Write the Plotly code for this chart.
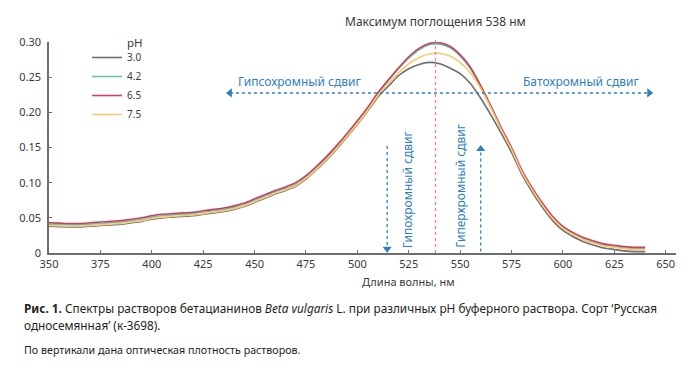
import plotly.graph_objects as go

wavelength = [350, 355, 360, 365, 370, 375, 380, 385, 390, 395, 400, 405, 410, 415, 420, 425, 430,
              435, 440, 445, 450, 455, 460, 465, 470, 475, 480, 485, 490, 495, 500, 505, 510, 515,
              520, 525, 530, 535, 540, 545, 550, 555, 560, 565, 570, 575, 580, 585, 590, 595, 600,
              605, 610, 615, 620, 625, 630, 635, 640]

ph_3_0 = [.038, .0375, .037, .037, .038, .039, .040, .041, .043, .045, .048, .050, .051, .052, .053,
          .055, .057, .059, .062, .066, .072, .078, .084, .089, .095, .105, .118, .132, .148, .165,
          .183, .202, .222, .237, .252, .262, .268, .271, .269, .263, .255, .241, .220, .196, .170,
          .143, .112, .087, .065, .046, .032, .023, .016, .011, .007, .005, .003, .002, .002]
ph_4_2 = [.041, .0405, .040, .040, .041, .042, .043, .044, .046, .048, .051, .053, .054, .055, .056,
          .058, .060, .062, .065, .069, .075, .081, .087, .092, .098, .108, .121, .135, .151, .168,
          .186, .205, .226, .245, .262, .277, .289, .296, .297, .292, .280, .262, .236, .207, .176,
          .148, .116, .091, .069, .050, .036, .027, .020, .015, .011, .009, .007, .006, .006]
ph_6_5 = [.043, .0425, .042, .042, .043, .044, .045, .046, .048, .050, .053, .055, .056, .057, .058,
          .060, .062, .064, .067, .071, .077, .083, .089, .094, .100, .110, .123, .137, .153, .170,
          .188, .207, .228, .246, .263, .279, .291, .298, .299, .294, .282, .264, .238, .209, .178,
          .150, .118, .093, .071, .052, .038, .029, .022, .017, .013, .011, .009, .008, .008]
ph_7_5 = [.039, .0385, .038, .038, .039, .040, .041, .042, .044, .046, .049, .051, .052, .053, .054,
          .056, .058, .060, .063, .067, .073, .079, .085, .090, .096, .106, .119, .133, .149, .166,
          .184, .203, .224, .241, .256, .269, .278, .283, .284, .280, .271, .256, .234, .206, .175,
          .147, .115, .090, .068, .049, .035, .026, .019, .014, .010, .008, .006, .005, .005]

series_names = ["3.0", "4.2", "6.5", "7.5"]
series_values = [ph_3_0, ph_4_2, ph_6_5, ph_7_5]
series_colors = ["#6d6e70", "#6cc3ae", "#c8415f", "#fcc970"]

x_ticks = [350, 375, 400, 425, 450, 475, 500, 525, 550, 575, 600, 625, 650]
y_ticks = [0, 0.05, 0.10, 0.15, 0.20, 0.25, 0.30]
y_tick_labels = ["0", "0.05", "0.10", "0.15", "0.20", "0.25", "0.30"]

peak_wavelength = 538
shift_level = 0.2275
hypso_arrow_x = [438, 642]
hypo_arrow = dict(x=514.5, y=[0.152, 0.006])
hyper_arrow = dict(x=560, y=[0.002, 0.148])

BLUE = "#2f7fc1"
AXIS = "#6d6e70"
TXT = "#3a3a3a"
FONT = "Noto Sans"

L, R, T, B = 49, 24, 42, 113
W, H = 700, 366
pw, ph = W - L - R, H - T - B


def px2paper(px, py):
    return (px - L) / pw, (H - B - py) / ph


fig = go.Figure()

for name, vals, col in zip(series_names, series_values, series_colors):
    fig.add_trace(go.Scatter(x=wavelength, y=vals, mode="lines", name=name,
                             line=dict(color=col, width=1.6, shape="spline", smoothing=0.6)))

# horizontal shift arrow (dotted line with two heads)
fig.add_trace(go.Scatter(x=hypso_arrow_x, y=[shift_level, shift_level], mode="lines",
                         line=dict(color=BLUE, width=1.3, dash="dot"), showlegend=False,
                         hoverinfo="skip"))
fig.add_trace(go.Scatter(x=hypso_arrow_x, y=[shift_level, shift_level], mode="markers",
                         marker=dict(symbol=["triangle-left", "triangle-right"], size=8, color=BLUE),
                         showlegend=False, hoverinfo="skip", cliponaxis=False))
# vertical arrows
fig.add_trace(go.Scatter(x=[hypo_arrow["x"]] * 2, y=hypo_arrow["y"], mode="lines",
                         line=dict(color=BLUE, width=1.3, dash="dot"), showlegend=False,
                         hoverinfo="skip"))
fig.add_trace(go.Scatter(x=[hypo_arrow["x"]], y=[hypo_arrow["y"][1]], mode="markers",
                         marker=dict(symbol="triangle-down", size=8, color=BLUE),
                         showlegend=False, hoverinfo="skip", cliponaxis=False))
fig.add_trace(go.Scatter(x=[hyper_arrow["x"]] * 2, y=hyper_arrow["y"], mode="lines",
                         line=dict(color=BLUE, width=1.3, dash="dot"), showlegend=False,
                         hoverinfo="skip"))
fig.add_trace(go.Scatter(x=[hyper_arrow["x"]], y=[hyper_arrow["y"][1]], mode="markers",
                         marker=dict(symbol="triangle-up", size=8, color=BLUE),
                         showlegend=False, hoverinfo="skip", cliponaxis=False))

# red dotted peak line
fig.add_shape(type="line", xref="x", yref="paper", x0=peak_wavelength, x1=peak_wavelength,
              y0=0, y1=px2paper(0, 38)[1], line=dict(color="#f0868c", width=1.3, dash="dot"))

fig.add_annotation(x=peak_wavelength, y=px2paper(0, 22)[1], xref="x", yref="paper",
                   text="Максимум поглощения 538 нм", showarrow=False,
                   font=dict(size=12, color=TXT), xanchor="center", yanchor="middle")
fig.add_annotation(x=472, y=0.2445, xref="x", yref="y", text="Гипсохромный сдвиг", showarrow=False,
                   font=dict(size=12, color=BLUE), xanchor="center", yanchor="middle")
fig.add_annotation(x=609, y=0.2445, xref="x", yref="y", text="Батохромный сдвиг", showarrow=False,
                   font=dict(size=12, color=BLUE), xanchor="center", yanchor="middle")
fig.add_annotation(x=524.4, y=0.09, xref="x", yref="y", text="Гипохромный сдвиг", showarrow=False,
                   textangle=-90, font=dict(size=12, color=BLUE), xanchor="center", yanchor="middle")
fig.add_annotation(x=550.2, y=0.095, xref="x", yref="y", text="Гиперхромный сдвиг", showarrow=False,
                   textangle=-90, font=dict(size=12, color=BLUE), xanchor="center", yanchor="middle")
fig.add_annotation(x=525, y=px2paper(0, 281)[1], xref="x", yref="paper", text="Длина волны, нм",
                   showarrow=False, font=dict(size=11, color=TXT), xanchor="center", yanchor="middle")
px_, py_ = px2paper(135, 42)
fig.add_annotation(x=px_, y=py_, xref="paper", yref="paper", text="pH", showarrow=False,
                   font=dict(size=11.5, color=TXT), xanchor="center", yanchor="middle")

cap_x = px2paper(22, 0)[0]
fig.add_annotation(x=cap_x, y=px2paper(0, 308)[1], xref="paper", yref="paper", xanchor="left",
                   yanchor="middle", showarrow=False, align="left",
                   font=dict(size=11.8, color="#231f20"),
                   text="<b>Рис. 1.</b> Спектры растворов бетацианинов <i>Beta vulgaris</i> L. при различных рН буферного раствора. Сорт ‘Русская")
fig.add_annotation(x=cap_x, y=px2paper(0, 325)[1], xref="paper", yref="paper", xanchor="left",
                   yanchor="middle", showarrow=False, align="left",
                   font=dict(size=11.8, color="#231f20"), text="односемянная’ (к-3698).")
fig.add_annotation(x=cap_x, y=px2paper(0, 350)[1], xref="paper", yref="paper", xanchor="left",
                   yanchor="middle", showarrow=False, align="left",
                   font=dict(size=10.7, color="#231f20"),
                   text="По вертикали дана оптическая плотность растворов.")

lx, ly = px2paper(87, 43)
fig.update_layout(
    width=W, height=H,
    margin=dict(l=L, r=R, t=T, b=B, pad=0, autoexpand=False),
    paper_bgcolor="white", plot_bgcolor="white",
    font=dict(family=FONT, size=11, color=TXT),
    showlegend=True,
    legend=dict(x=lx, y=ly, xanchor="left", yanchor="top", bgcolor="rgba(0,0,0,0)",
                font=dict(size=10, color=TXT), tracegroupgap=0),
    xaxis=dict(range=[350, 655], tickvals=x_ticks, showgrid=False, zeroline=False,
               showline=True, linecolor=AXIS, linewidth=1.5, ticks="inside", ticklen=3,
               tickcolor=AXIS, tickfont=dict(size=11, color=TXT)),
    yaxis=dict(range=[0, 0.30], tickvals=y_ticks, ticktext=y_tick_labels, showgrid=False,
               zeroline=False, showline=True, linecolor=AXIS, linewidth=1.5, ticks="inside",
               ticklen=3, tickcolor=AXIS, tickfont=dict(size=11, color=TXT), ticklabelstandoff=4),
)

fig.write_html("out.html", config={"displayModeBar": False},
               post_script="document.body.style.margin='0px';document.body.style.padding='0px';")
